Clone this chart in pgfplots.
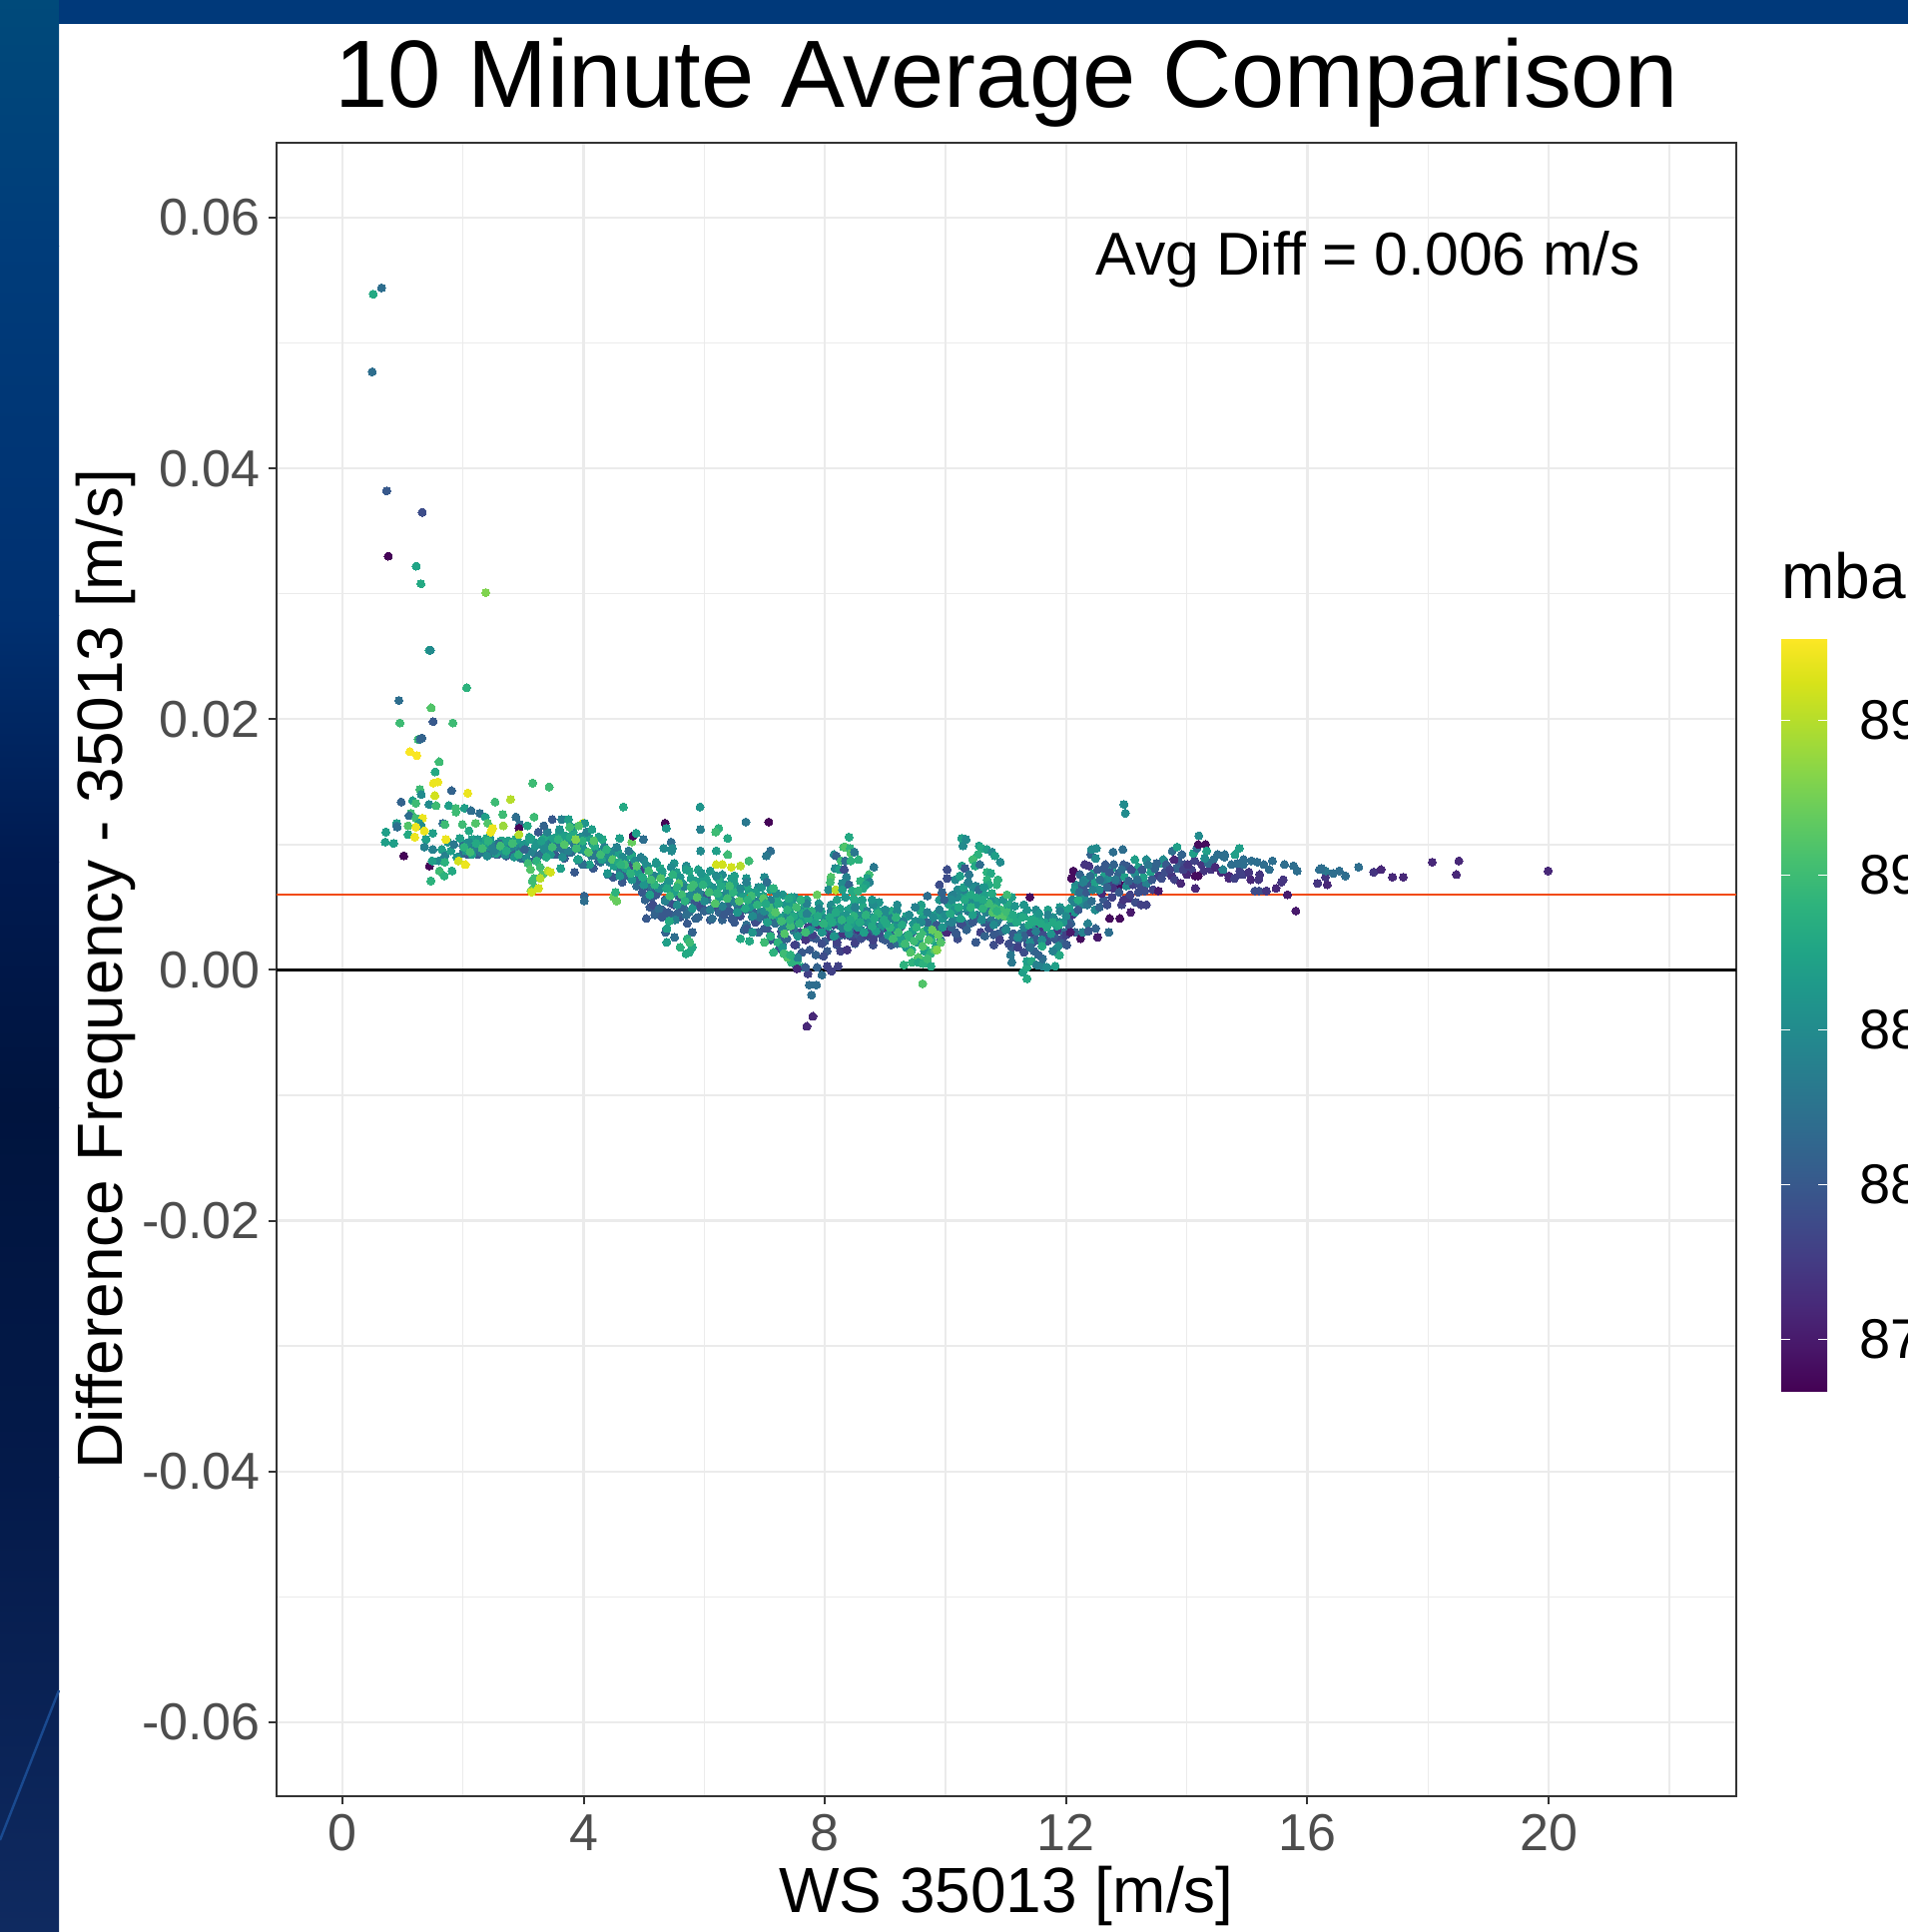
\documentclass[border=0pt]{standalone}
\usepackage{fontspec}
\setmainfont{Liberation Sans}
\usepackage{pgfplots}
\pgfplotsset{compat=1.18}
\definecolor{bA}{HTML}{004A7A}\definecolor{bB}{HTML}{003C7A}\definecolor{bC}{HTML}{003070}
\definecolor{bD}{HTML}{001A50}\definecolor{bE}{HTML}{00143E}\definecolor{bF}{HTML}{041A4A}
\definecolor{bG}{HTML}{0F2A60}\definecolor{bT}{HTML}{00397A}\definecolor{bL}{HTML}{1A4A90}
\definecolor{gridc}{HTML}{EBEBEB}\definecolor{tickc}{HTML}{4D4D4D}\definecolor{borderc}{HTML}{333333}
\definecolor{meanc}{HTML}{F24A0E}
\begin{document}
\begin{tikzpicture}
\path[use as bounding box] (0pt,0pt) rectangle (955.5pt,967.5pt);
\clip (0pt,0pt) rectangle (955.5pt,967.5pt);
\fill[white] (0pt,0pt) rectangle (955.5pt,967.5pt);
\shade[top color=bA,bottom color=bB] (0pt,844pt) rectangle (29.5pt,967.5pt);
\shade[top color=bB,bottom color=bC] (0pt,659pt) rectangle (29.5pt,844.2pt);
\shade[top color=bC,bottom color=bD] (0pt,535.5pt) rectangle (29.5pt,659.2pt);
\shade[top color=bD,bottom color=bE] (0pt,412.5pt) rectangle (29.5pt,535.7pt);
\shade[top color=bE,bottom color=bF] (0pt,227.5pt) rectangle (29.5pt,412.7pt);
\shade[top color=bF,bottom color=bG] (0pt,0pt) rectangle (29.5pt,227.7pt);
\fill[bT] (29.5pt,955.5pt) rectangle (955.5pt,967.5pt);
\draw[bL,line width=1.2pt] (0pt,46pt) -- (29.5pt,121pt);
\begin{axis}[
  at={(138.5pt,68pt)},anchor=south west,scale only axis,width=731pt,height=828pt,
  xmin=-1.09,xmax=23.11,ymin=-0.0659,ymax=0.06597,
  xtick={0,4,8,12,16,20},xticklabels={0,4,8,12,16,20},
  minor xtick={2,6,10,14,18,22},
  ytick={-0.06,-0.04,-0.02,0,0.02,0.04,0.06},
  yticklabels={-0.06,-0.04,-0.02,0.00,0.02,0.04,0.06},
  minor ytick={-0.05,-0.03,-0.01,0.01,0.03,0.05},
  scaled y ticks=false,
  grid=both,major grid style={gridc,line width=1.2pt},minor grid style={gridc,line width=0.7pt},
  axis line style={borderc,line width=0.8pt},
  tick align=outside,tick pos=left,major tick length=4pt,minor tick length=0pt,
  tick style={borderc,line width=1pt},
  every minor tick/.style={draw=none},
  ticklabel style={font=\fontsize{26}{26}\selectfont,text=tickc},
  yticklabel style={inner xsep=0pt,xshift=-4pt},
  xticklabel style={anchor=base,yshift=-23pt},
  title={10 Minute Average Comparison},
  title style={font=\fontsize{47.9}{50}\selectfont,anchor=base,at={(0.5,1)},yshift=11.5pt},
  xlabel={WS 35013 [m/s]},
  xlabel style={font=\fontsize{32}{34}\selectfont,anchor=base,at={(axis description cs:0.5,0)},yshift=-58pt},
  ylabel={Difference Frequency - 35013 [m/s]},
  ylabel style={font=\fontsize{32}{34}\selectfont,anchor=base,at={(axis description cs:0,0.5)},yshift=77pt},
  colormap/viridis,point meta min=873.3,point meta max=897.67,
  colorbar,
  colorbar shift/.style={},
  colorbar/width=23pt,
  colorbar style={
    at={(parent axis.north east)},anchor=north west,xshift=22.5pt,yshift=-248pt,
    width=23pt,height=377.5pt,xmin=0,xmax=1,
    axis line style={draw=none},
    ytick={875,880,885,890,895},yticklabels={87,88,88,89,89},
    tick align=inside,ytick pos=both,yticklabel pos=right,
    major tick length=4.5pt,
    ytick style={white,line width=0.5pt},
    yticklabel style={font=\fontsize{28}{28}\selectfont,text=black,inner xsep=0pt,xshift=16pt},
  },
]
\addplot[scatter,only marks,mark=*,mark size=2pt,scatter src=explicit,
  scatter/use mapped color={draw=mapped color,fill=mapped color},mark options={line width=0pt}]
  table[x index=0,y index=1,meta index=2] {
5.1 .0050 880
5.2 .0046 881
5.3 .0048 880
5.45 .0044 881
5.6 .0042 880
5.7 .0044 882
5.9 .0042 881
6.1 .0040 880
6.3 .0040 881
6.5 .0038 880
6.7 .0036 882
6.9 .0030 881
7.1 .0024 880
7.3 .0020 881
4.8 .0092 886
5.0 .0088 885
5.2 .0086 887
5.5 .0085 886
5.7 .0083 885
5.9 .0080 887
6.1 .0079 886
6.3 .0076 885
6.5 .0075 887
6.7 .0073 886
6.9 .0066 885
7.1 .0064 887
7.3 .0060 886
7.5 .0058 885
7.7 .0056 887
7.9 .0053 886
8.1 .0052 885
8.5 .0054 887
8.9 .0054 886
9.2 .0052 885
9.6 .0052 887
9.9 .0056 886
10.1 .0059 885
11.1 .0058 887
11.3 .0052 886
11.5 .0048 885
11.7 .0048 887
11.9 .0050 886
8.2 .0020 879
8.5 .0021 880
8.8 .0020 879
9.1 .0020 880
10.2 .0025 879
10.5 .0022 880
10.8 .0020 879
11.1 .0018 880
11.3 .0014 879
2.00 .0093 882
2.06 .0101 886
2.12 .0097 884
2.18 .0104 887
2.24 .0092 880
2.30 .0100 885
2.36 .0095 883
2.42 .0102 887
2.48 .0093 882
2.54 .0100 886
2.60 .0097 884
2.66 .0103 887
2.72 .0091 880
2.78 .0099 885
2.84 .0094 883
2.90 .0102 887
2.96 .0089 882
3.02 .0100 886
3.08 .0095 884
3.14 .0104 887
3.20 .0088 880
3.26 .0100 885
3.32 .0093 883
3.38 .0106 887
3.44 .0092 882
3.50 .0105 886
3.56 .0098 884
3.62 .0108 887
3.68 .0089 880
3.74 .0103 885
3.80 .0094 883
3.86 .0106 887
3.92 .0087 882
3.98 .0101 886
4.04 .0094 884
4.10 .0105 887
4.16 .0081 880
4.22 .0095 885
4.28 .0086 883
4.34 .0098 887
4.40 .0076 882
4.46 .0091 886
4.52 .0083 884
4.58 .0093 887
4.64 .0070 880
4.70 .0085 885
4.76 .0075 883
4.82 .0086 887
4.88 .0067 882
4.94 .0080 886
5.00 .0071 884
5.06 .0083 887
5.12 .0058 880
5.18 .0075 885
5.24 .0063 883
5.30 .0077 887
5.36 .0055 882
5.42 .0071 886
5.48 .0063 884
5.54 .0078 887
5.60 .0050 880
5.66 .0068 885
5.72 .0056 883
5.78 .0073 887
5.84 .0052 882
5.90 .0069 886
5.96 .0060 884
6.02 .0074 887
6.08 .0048 880
6.14 .0066 885
6.20 .0053 883
6.26 .0071 887
6.32 .0049 882
6.38 .0063 886
6.44 .0056 884
6.50 .0069 887
6.56 .0044 880
6.62 .0059 885
6.68 .0048 883
6.74 .0063 887
6.80 .0042 882
6.86 .0054 886
6.92 .0046 884
6.98 .0059 887
7.04 .0033 880
7.10 .0049 885
7.16 .0039 883
7.22 .0054 887
7.28 .0027 882
7.34 .0044 886
7.40 .0035 884
7.46 .0052 887
7.52 .0020 880
7.58 .0039 885
7.64 .0028 883
7.70 .0046 887
7.76 .0026 880
7.82 .0041 886
7.88 .0034 884
7.94 .0047 887
8.00 .0023 880
8.06 .0038 885
8.12 .0029 883
8.18 .0045 887
8.24 .0027 882
8.30 .0043 886
8.36 .0036 884
8.42 .0049 887
8.48 .0027 880
8.54 .0044 885
8.60 .0032 883
8.66 .0047 887
8.72 .0027 882
8.78 .0042 886
8.84 .0035 884
8.90 .0047 887
8.96 .0025 880
9.02 .0042 885
9.08 .0030 883
9.14 .0045 887
9.20 .0021 882
9.26 .0036 886
9.32 .0026 884
9.38 .0043 887
9.44 .0016 888
9.50 .0039 885
9.56 .0024 889
9.62 .0042 887
9.68 .0016 889
9.74 .0037 886
9.80 .0028 889
9.86 .0045 887
9.92 .0024 882
9.98 .0043 886
10.04 .0036 884
10.10 .0052 887
10.16 .0030 880
10.22 .0047 885
10.28 .0039 883
10.34 .0059 887
10.40 .0037 882
10.46 .0055 886
10.52 .0044 884
10.58 .0063 887
10.64 .0038 880
10.70 .0053 885
10.76 .0040 883
10.82 .0055 887
10.88 .0029 880
10.94 .0044 886
11.00 .0033 884
11.06 .0052 887
11.12 .0026 880
11.18 .0041 885
11.24 .0029 883
11.30 .0043 887
11.36 .0022 882
11.42 .0036 886
11.48 .0026 882
11.54 .0041 887
11.60 .0021 880
11.66 .0036 885
11.72 .0027 882
11.78 .0042 887
11.84 .0024 880
11.90 .0038 885
11.96 .0030 882
12.02 .0046 886
12.08 .0037 881
12.14 .0054 884
12.20 .0048 880
12.26 .0066 886
2.03 .0099 884
2.09 .0092 880
2.15 .0104 887
2.21 .0096 883
2.27 .0101 886
2.33 .0094 881
2.39 .0105 888
2.45 .0098 885
2.51 .0098 884
2.57 .0092 880
2.63 .0103 887
2.69 .0095 883
2.75 .0100 886
2.81 .0093 881
2.87 .0104 888
2.93 .0097 885
2.99 .0096 884
3.05 .0088 880
3.11 .0104 887
3.17 .0094 883
3.23 .0101 886
3.29 .0092 881
3.35 .0106 888
3.41 .0100 885
3.47 .0101 884
3.53 .0092 880
3.59 .0108 887
3.65 .0096 883
3.71 .0104 886
3.77 .0094 881
3.83 .0110 888
3.89 .0098 885
3.95 .0096 884
4.01 .0084 880
4.07 .0106 887
4.13 .0091 883
4.19 .0098 886
4.25 .0087 881
4.31 .0104 888
4.37 .0092 885
4.43 .0086 884
4.49 .0074 880
4.55 .0094 887
4.61 .0079 883
4.67 .0088 886
4.73 .0075 881
4.79 .0091 888
4.85 .0079 885
4.91 .0074 884
4.97 .0062 880
5.03 .0082 887
5.09 .0067 883
5.15 .0075 886
5.21 .0062 881
5.27 .0081 888
5.33 .0066 885
5.39 .0066 884
5.45 .0053 880
5.51 .0077 887
5.57 .0059 883
5.63 .0069 886
5.69 .0055 881
5.75 .0079 888
5.81 .0062 885
5.87 .0063 884
5.93 .0050 880
5.99 .0073 887
6.05 .0056 883
6.11 .0066 886
6.17 .0052 881
6.23 .0073 888
6.29 .0059 885
6.35 .0059 884
6.41 .0047 880
6.47 .0067 887
6.53 .0053 883
6.59 .0062 886
6.65 .0049 881
6.71 .0067 888
6.77 .0053 885
6.83 .0052 884
6.89 .0040 880
6.95 .0058 887
7.01 .0042 883
7.07 .0052 886
7.13 .0039 881
7.19 .0057 888
7.25 .0042 885
7.31 .0040 884
7.37 .0025 880
7.43 .0049 887
7.49 .0031 883
7.55 .0042 886
7.61 .0028 880
7.67 .0051 888
7.73 .0034 885
7.79 .0036 884
7.85 .0025 880
7.91 .0046 887
7.97 .0031 883
8.03 .0040 886
8.09 .0028 880
8.15 .0048 888
8.21 .0036 885
8.27 .0040 884
8.33 .0028 880
8.39 .0048 887
8.45 .0034 883
8.51 .0043 886
8.57 .0031 881
8.63 .0050 888
8.69 .0038 885
8.75 .0039 884
8.81 .0027 880
8.87 .0047 887
8.93 .0033 883
8.99 .0040 886
9.05 .0028 881
9.11 .0047 888
9.17 .0036 885
9.23 .0035 884
9.29 .0021 888
9.35 .0043 887
9.41 .0026 889
9.47 .0037 886
9.53 .0022 889
9.59 .0047 888
9.65 .0031 890
9.71 .0033 886
9.77 .0024 889
9.83 .0044 887
9.89 .0030 883
9.95 .0041 886
10.01 .0030 881
10.07 .0052 888
10.13 .0040 885
10.19 .0047 884
10.25 .0037 880
10.31 .0062 887
10.37 .0047 883
10.43 .0056 886
10.49 .0042 881
10.55 .0065 888
10.61 .0050 885
10.67 .0046 884
10.73 .0035 880
10.79 .0053 887
10.85 .0038 883
10.91 .0046 886
10.97 .0032 880
11.03 .0052 888
11.09 .0038 885
11.15 .0038 884
11.21 .0024 880
11.27 .0043 887
11.33 .0029 881
11.39 .0036 885
11.45 .0022 880
11.51 .0043 887
11.57 .0032 882
11.63 .0033 884
11.69 .0023 879
11.75 .0042 887
11.81 .0029 881
11.87 .0037 885
11.93 .0025 879
11.99 .0047 887
12.05 .0038 881
4.6 .0086 880
4.7 .0079 881
4.8 .0083 879
4.9 .0072 881
4.95 .0080 878
5.0 .0066 880
5.02 .0056 881
5.04 .0041 880
5.1 .0061 881
5.15 .0052 879
5.18 .0044 881
5.2 .0060 880
5.25 .0049 882
5.3 .0042 880
5.35 .0056 879
5.36 .0030 881
5.4 .0046 880
5.45 .0061 881
5.5 .0052 879
5.51 .0026 882
5.55 .0045 881
5.6 .0058 880
5.65 .0050 881
5.72 .0037 880
5.75 .0046 882
5.8 .0030 881
5.85 .0055 880
5.86 .0041 881
5.95 .0051 879
6.0 .0047 881
6.05 .0060 880
6.13 .0041 882
6.2 .0050 879
6.25 .0046 881
6.33 .0044 880
6.4 .0053 881
6.46 .0041 880
6.55 .0048 882
6.6 .0043 879
6.66 .0032 881
6.71 .0033 880
6.8 .0047 881
6.85 .0038 879
6.92 .0042 882
7.0 .0033 880
7.05 .0041 881
7.1 .0028 879
7.18 .0037 882
7.24 .0017 880
7.28 .0031 879
7.35 .0025 881
7.4 .0011 877
7.45 .0034 880
7.5 .0020 878
7.51 .0005 881
7.54 .0001 875
7.6 .0030 879
7.62 .0014 880
7.68 .0024 877
7.72 .0034 878
7.75 .0016 880
7.8 .0028 878
7.85 .0012 881
7.9 .0036 877
7.95 .0021 879
8.0 .0032 878
8.04 .0015 880
8.1 .0027 877
8.15 .0036 879
8.2 .0022 878
8.26 .0015 878
8.3 .0029 877
8.37 .0016 877
8.42 .0027 879
8.5 .0022 878
8.55 .0032 877
8.6 .0025 879
8.7 .0028 878
8.75 .0033 880
8.8 .0024 878
8.9 .0029 879
9.0 .0024 880
9.05 .0031 878
9.15 .0026 881
9.25 .0034 878
9.45 .0030 880
9.7 .0038 881
9.85 .0036 880
9.95 .0032 879
10.02 .0030 876
10.1 .0034 881
10.18 .0029 880
10.28 .0036 879
10.35 .0032 881
10.45 .0038 880
10.58 .0030 878
10.65 .0027 881
10.72 .0033 879
10.8 .0028 880
10.9 .0024 878
10.95 .0031 881
11.05 .0021 879
11.12 .0029 880
11.2 .0018 878
11.28 .0026 881
11.36 .0021 879
11.42 .0030 878
11.5 .0024 880
11.55 .0033 877
11.62 .0028 879
11.7 .0036 878
11.78 .0026 880
11.85 .0032 877
11.92 .0021 881
12.0 .0028 878
12.05 .0036 880
12.1 .0044 877
12.15 .0030 881
1.6 .0087 885
1.65 .0096 887
1.7 .0091 884
1.75 .0102 886
1.8 .0095 887
1.85 .0100 883
1.9 .0090 886
1.95 .0105 887
2.0 .0099 882
2.05 .0095 886
2.1 .0102 885
2.15 .0092 887
2.2 .0098 884
2.25 .0104 886
2.3 .0094 883
2.35 .0100 887
2.4 .0091 885
2.45 .0105 886
2.5 .0097 884
2.55 .0093 887
2.6 .0101 882
2.65 .0096 886
2.7 .0092 885
2.75 .0103 887
2.8 .0098 884
2.85 .0090 886
2.9 .0104 887
2.95 .0095 883
3.0 .0100 886
3.05 .0089 885
3.1 .0106 887
3.15 .0094 884
3.2 .0099 886
3.25 .0091 882
3.3 .0103 887
3.35 .0096 885
3.4 .0110 884
3.45 .0092 886
3.5 .0105 887
3.55 .0098 883
3.6 .0112 886
3.65 .0090 885
3.7 .0107 887
3.75 .0095 884
3.8 .0114 886
3.85 .0100 883
3.9 .0088 887
3.95 .0106 885
4.0 .0096 886
4.05 .0110 884
4.1 .0084 887
4.15 .0101 885
4.2 .0092 883
4.25 .0106 886
4.3 .0088 887
4.35 .0098 884
4.4 .0077 886
4.45 .0094 885
4.5 .0083 887
4.55 .0098 884
4.6 .0075 886
4.65 .0090 885
4.7 .0081 887
4.75 .0095 883
4.8 .0072 886
4.85 .0087 885
4.9 .0078 887
4.95 .0090 884
5.0 .0068 886
5.05 .0083 885
5.1 .0060 887
5.15 .0075 884
5.2 .0085 886
5.25 .0065 885
5.3 .0079 887
5.35 .0055 884
5.4 .0071 886
5.45 .0082 885
5.5 .0062 887
5.55 .0052 885
5.6 .0074 886
5.65 .0066 884
5.7 .0080 887
5.75 .0059 885
5.8 .0049 886
5.85 .0071 887
5.9 .0063 884
5.95 .0077 886
6.0 .0055 885
6.05 .0070 887
6.1 .0048 884
6.15 .0063 886
6.2 .0075 885
6.25 .0058 887
6.3 .0051 884
6.35 .0068 886
6.4 .0062 885
6.45 .0073 887
6.5 .0054 884
6.55 .0046 886
6.6 .0065 885
6.65 .0058 887
6.7 .0070 884
6.75 .0050 886
6.8 .0043 885
6.85 .0062 887
6.9 .0055 884
6.95 .0066 886
7.0 .0047 885
7.05 .0038 887
7.1 .0056 884
7.15 .0049 886
7.2 .0061 885
7.25 .0042 887
7.3 .0033 884
7.35 .0052 886
7.4 .0045 885
7.45 .0058 887
7.5 .0036 884
7.55 .0027 886
7.6 .0047 885
7.65 .0040 887
7.7 .0053 884
7.75 .0032 886
7.8 .0044 885
7.85 .0038 887
7.9 .0049 884
7.95 .0030 886
8.0 .0041 885
8.05 .0035 887
8.1 .0047 884
8.15 .0027 886
8.2 .0039 885
8.25 .0049 887
8.3 .0033 884
8.35 .0044 886
8.4 .0029 885
8.45 .0037 887
8.5 .0050 884
8.55 .0034 886
8.6 .0043 885
8.65 .0030 887
8.7 .0047 884
8.75 .0038 886
8.8 .0052 885
8.85 .0031 887
8.9 .0042 884
8.95 .0036 886
9.0 .0048 885
9.05 .0028 887
9.1 .0041 884
9.15 .0034 886
9.2 .0047 885
9.25 .0025 887
9.3 .0039 884
9.35 .0018 886
9.4 .0044 885
9.45 .0031 887
9.5 .0050 884
9.55 .0022 886
9.6 .0038 885
9.65 .0015 887
9.7 .0046 884
9.75 .0028 886
9.8 .0042 885
9.85 .0019 887
9.9 .0048 884
9.95 .0034 886
10.0 .0044 885
10.05 .0053 887
10.1 .0038 884
10.15 .0048 886
10.2 .0058 885
10.25 .0041 887
10.3 .0064 884
10.35 .0050 886
10.4 .0056 885
10.45 .0044 887
10.5 .0067 884
10.55 .0052 886
10.6 .0040 885
10.65 .0060 887
10.7 .0047 884
10.75 .0055 886
10.8 .0036 885
10.85 .0051 887
10.9 .0042 884
10.95 .0056 886
11.0 .0032 885
11.05 .0047 887
11.1 .0039 884
11.15 .0051 886
11.2 .0026 885
11.25 .0043 887
11.3 .0034 884
11.35 .0048 886
11.4 .0022 885
11.45 .0040 887
11.5 .0031 884
11.55 .0045 886
11.6 .0024 885
11.65 .0038 887
11.7 .0044 884
11.75 .0029 886
11.8 .0041 885
11.85 .0035 887
11.9 .0047 884
11.95 .0038 886
12.0 .0043 885
12.05 .0049 887
12.1 .0056 884
12.15 .0046 886
12.2 .0062 883
12.25 .0052 885
2.02 .0098 889
2.12 .0094 890
2.22 .0101 888
2.32 .0097 890
2.42 .0103 889
2.52 .0095 884
2.62 .0099 890
2.72 .0095 888
2.82 .0101 890
2.92 .0092 889
3.02 .0096 881
3.08 .0085 890
3.12 .0080 891
3.18 .0073 890
3.22 .0087 889
3.28 .0082 890
3.32 .0076 891
3.38 .0090 888
3.48 .0098 890
3.58 .0104 889
3.68 .0100 891
3.78 .0106 888
3.88 .0097 890
3.98 .0103 889
4.08 .0094 891
4.18 .0099 888
4.28 .0092 890
4.38 .0096 889
4.48 .0088 891
4.58 .0086 888
4.68 .0084 890
4.78 .0077 889
4.88 .0083 891
4.98 .0074 888
5.08 .0079 890
5.18 .0068 889
5.28 .0073 891
5.38 .0065 888
5.43 .0059 890
5.48 .0076 889
5.58 .0069 891
5.63 .0060 890
5.68 .0055 889
5.78 .0066 890
5.88 .0058 891
5.98 .0068 889
6.08 .0062 890
6.18 .0053 891
6.28 .0067 888
6.38 .0057 890
6.48 .0062 889
6.58 .0055 891
6.68 .0049 888
6.78 .0059 890
6.88 .0052 889
6.98 .0057 891
7.08 .0050 890
7.13 .0044 889
7.18 .0046 891
7.23 .0053 888
7.28 .0039 890
7.33 .0029 891
7.38 .0048 889
7.43 .0035 890
7.48 .0043 888
7.53 .0050 890
7.58 .0037 889
7.63 .0045 888
7.68 .0030 890
7.73 .0041 888
7.78 .0047 889
7.88 .0043 888
7.98 .0037 889
8.08 .0042 888
8.18 .0046 888
8.28 .0040 889
8.38 .0034 888
8.48 .0043 889
8.58 .0038 888
8.68 .0044 889
8.78 .0035 888
8.88 .0045 889
8.98 .0040 888
9.08 .0034 889
9.13 .0025 890
9.18 .0042 889
9.22 .0030 890
9.28 .0036 888
9.33 .0021 890
9.38 .0028 889
9.42 .0014 891
9.48 .0023 890
9.52 .0034 889
9.55 .0010 891
9.58 .0027 890
9.62 .0019 891
9.67 .0008 890
9.72 .0024 891
9.75 .0013 889
9.78 .0032 892
9.82 .0016 891
9.86 .0016 893
9.88 .0028 892
9.92 .0022 891
10.08 .0045 888
10.22 .0050 888
10.32 .0056 888
10.42 .0050 889
10.52 .0058 888
10.62 .0049 889
10.72 .0053 890
10.78 .0046 891
10.82 .0049 890
10.88 .0044 891
10.92 .0048 890
10.98 .0043 891
11.02 .0046 890
11.08 .0041 889
11.18 .0038 888
11.28 .0042 888
11.38 .0036 888
11.48 .0039 888
11.58 .0037 888
11.68 .0034 888
11.78 .0038 888
11.88 .0036 888
7.33 .0013 890
7.22 .0022 889
7.45 .0006 889
7.62 .0002 888
7.54 .0007 889
.513 .0539 888
.651 .0544 882
.497 .0477 882
.734 .0382 880
1.325 .0365 879
.762 .0330 873.5
1.225 .0322 887.5
1.303 .0308 888
2.379 .0301 893
1.44 .0255 887
1.46 .0255 885
2.06 .0225 889
.939 .0215 882
1.474 .0209 891
.955 .0197 890
1.507 .0198 880
1.833 .0197 890
1.258 .0184 890
1.29 .0184 882
1.32 .0185 881
1.12 .0174 897.5
1.236 .0171 897.5
1.606 .0166 890
1.54 .0158 888
1.51 .0149 897
1.584 .0150 897
1.286 .0144 890
1.31 .0140 885
1.81 .0143 881
2.08 .0141 897
1.534 .0139 896
3.157 .0149 890
3.43 .0146 890
2.533 .0134 890
2.79 .0136 895
.977 .0134 881
1.165 .0135 887
1.22 .0133 890
1.44 .0132 885
1.556 .0131 890
1.766 .0131 887
1.88 .0129 890
1.885 .0126 890
2.025 .0129 887
2.136 .0127 882
1.137 .0125 890
1.109 .0123 882
1.22 .0121 890
1.33 .0121 897
.9 .0117 887
.9 .0115 884
.91 .0114 882
1.09 .0115 891
1.275 .0117 887
1.31 .0115 885
1.22 .0114 897
1.093 .0108 888
1.2 .0106 897
1.36 .0111 897
1.5 .0109 887
.723 .0110 887
.712 .0102 887
.85 .0101 887
1.02 .0091 873.5
1.446 .0083 873.5
1.468 .0071 889
1.61 .0079 890
1.69 .0075 889
1.82 .0079 888
1.49 .0087 887
1.7 .0086 889
1.926 .0087 896
2.04 .0084 897
1.39 .0104 887
1.5 .0096 884
1.36 .0098 884
1.72 .0104 897
1.67 .0117 882
1.7 .0116 890
1.99 .0116 890
2.1 .0111 888
2.21 .0117 891
2.28 .0125 882
2.37 .0122 887
2.41 .0117 891
2.49 .0113 897
2.46 .0110 897
2.66 .0124 890
2.88 .0122 882
3.18 .0122 890
2.94 .0116 882
2.67 .0115 894
2.93 .0113 873.5
2.93 .0108 895
3.07 .0115 888
3.34 .0115 881
3.25 .0110 880
3.48 .0120 880
3.64 .0120 884
3.75 .0120 887
3.77 .0114 890
3.99 .0117 896
4.02 .0117 886
3.92 .0115 891
4.14 .0112 887
3.87 .0104 893
4.25 .0106 887
4.17 .0103 891
4.6 .0105 887
3.62 .0081 887
3.98 .0084 882
3.92 .0088 887
3.41 .0079 895
3.45 .0078 896
3.28 .0073 895
3.15 .0071 890
3.18 .0066 890
3.13 .0063 893
3.14 .0062 896
3.25 .0065 896
4.01 .0059 881
4.01 .0055 882
4.5 .0058 892
4.55 .0055 892
4.53 .0062 889
3.85 .0078 880
4.8 .0102 892
4.66 .0130 888
5.93 .0130 886
5.35 .0117 873.5
5.37 .0113 886
4.82 .0107 873.5
4.87 .0109 887
4.99 .0104 882
5.33 .0097 885
5.45 .0102 882
5.47 .0097 885
5.46 .0095 885
6.69 .0118 883
7.07 .0118 873.5
6.24 .0113 889
6.19 .0110 890
6.39 .0105 888
5.94 .0112 884
5.94 .0095 885
6.2 .0095 887
6.39 .0092 890
6.74 .0087 890
7.1 .0095 882
7.03 .0091 883
7.0 .0074 885
7.04 .0070 882
6.6 .0083 895
6.45 .0082 896
6.3 .0084 896
6.2 .0084 896
7.15 .0065 889
7.4 .0057 888
7.6 .0056 889
5.6 .0018 889
5.7 .0013 888
5.75 .0014 888
5.8 .0018 888
5.72 .0025 889
5.76 .0022 890
5.52 .0040 884
5.42 .0039 888
5.38 .0033 887
5.38 .0022 887
6.6 .0025 888
6.75 .0023 888
6.8 .0030 886
7.0 .0022 890
7.1 .0027 889
7.15 .0014 889
7.3 .0018 886
7.38 .0010 891
7.55 .0010 884
7.7 .0045 884
7.32 .0013 890
7.72 -.0003 878
7.54 .0001 876
7.68 .0002 880
7.87 .0002 881
8.04 .0003 878
8.11 -.0001 878
8.22 .0003 878
7.95 -.0004 882
7.74 -.0012 882
7.86 -.0012 882
7.78 -.0020 882
7.8 -.0037 876
7.7 -.0045 876
7.43 .0012 889
7.98 .0011 879
8.4 .0106 888
8.31 .0098 890
8.34 .0098 891
8.42 .0097 889
8.43 .0093 891
8.49 .0094 883
8.56 .0088 889
8.15 .0092 885
8.19 .0091 881
8.27 .0087 890
8.34 .0087 882
8.43 .0087 889
8.81 .0082 883
8.17 .0081 885
8.24 .0080 887
8.32 .0080 879
8.1 .0074 891
8.36 .0074 884
8.73 .0076 890
8.7 .0073 887
8.59 .0071 889
8.74 .0070 884
8.09 .0070 890
8.29 .0069 885
8.4 .0068 881
8.68 .0068 887
8.63 .0065 888
8.06 .0064 885
8.18 .0064 895
8.29 .0064 887
8.45 .0063 888
8.55 .0063 889
7.87 .0060 892
8.2 .0056 887
8.34 .0058 886
8.48 .0057 888
8.62 .0056 887
8.78 .0056 886
10.27 .0105 887
10.34 .0104 885
10.29 .0099 885
10.56 .0099 887
10.59 .0097 888
10.69 .0096 887
10.77 .0094 885
10.82 .0091 887
10.91 .0086 885
10.54 .0092 889
10.45 .0088 890
10.49 .0083 888
10.27 .0083 887
10.57 .0084 882
10.32 .0081 880
10.03 .0080 879
10.03 .0073 879
9.9 .0068 879
9.94 .0062 881
9.7 .0059 882
10.16 .0072 885
10.24 .0075 887
10.39 .0076 883
10.69 .0078 889
10.75 .0077 888
10.69 .0072 889
10.87 .0072 889
10.85 .0068 889
10.72 .0068 888
10.46 .0066 885
10.2 .0064 885
10.3 .0066 887
10.55 .0064 882
10.77 .0061 888
11.02 .0060 890
11.4 .0058 874
10.12 .0060 884
10.38 .0070 884
10.64 .0066 886
10.1 .0056 885
9.98 .0056 881
9.62 -.0011 891
9.31 .0004 889
9.76 .0003 888
9.45 .0006 889
9.55 .0006 888
9.63 .0005 889
9.7 .0009 890
11.35 -.0007 888
11.28 -.0002 887
11.35 .0002 888
11.35 .0007 887
11.43 .0007 888
11.51 .0004 884
11.6 .0003 884
11.68 .0002 885
11.82 .0003 888
11.61 .0009 882
11.54 .0012 881
11.47 .0015 881
11.4 .0018 882
11.1 .0006 883
11.08 .0012 883
11.79 .0015 885
11.89 .0012 888
11.87 .0019 885
12.01 .0020 880
11.6 .0019 888
11.88 .0012 888
11.82 .0003 887
11.78 .0015 884
12.07 .0030 875
12.24 .0025 874
12.52 .0026 875
12.71 .0030 882
12.28 .0030 884
12.36 .0037 884
12.49 .0033 881
12.37 .0031 880
12.72 .0041 874
12.89 .0041 874
13.07 .0046 875
12.2 .0048 880
12.3 .0058 885
12.35 .0052 883
12.42 .0055 882
12.48 .0048 885
12.55 .0050 881
12.62 .0056 880
12.68 .0052 879
12.76 .0058 878
12.92 .0052 878
12.95 .0056 877
13.03 .0057 877
13.15 .0054 879
13.24 .0052 878
13.33 .0052 878
13.06 .0060 878
13.2 .0062 879
12.16 .0068 885
12.26 .0066 880
12.37 .0069 880
12.48 .0070 887
12.59 .0061 876
12.73 .0068 878
12.78 .0065 877
12.9 .0068 874
13.0 .0067 885
13.11 .0068 878
13.22 .0068 879
13.33 .0069 884
13.44 .0064 878
13.53 .0063 875
12.12 .0079 874
12.09 .0073 874
12.23 .0076 881
12.31 .0072 885
12.45 .0077 887
12.64 .0076 887
12.7 .0073 885
12.75 .0081 887
12.87 .0077 881
12.97 .0074 887
13.14 .0077 885
13.28 .0074 887
13.4 .0078 887
13.53 .0075 878
13.64 .0078 879
13.75 .0075 877
13.83 .0081 881
13.47 .0081 881
12.31 .0084 877
12.38 .0083 877
12.65 .0084 880
12.79 .0084 881
12.95 .0084 880
13.01 .0083 880
12.63 .0081 880
12.14 .0064 886
12.2 .0056 888
12.55 .0064 885
12.6 .0071 884
12.85 .0071 880
12.41 .0092 881
12.49 .0089 885
12.5 .0097 885
12.42 .0096 885
12.78 .0094 882
12.94 .0096 882
13.14 .0088 887
13.2 .0082 887
13.33 .0088 885
13.57 .0085 887
13.61 .0088 885
12.96 .0132 885
12.98 .0125 885
12.22 .0062 882
12.28 .0070 884
12.34 .0062 880
12.4 .0075 882
12.44 .0064 884
12.52 .0080 880
12.56 .0072 882
12.68 .0066 881
12.72 .0078 880
12.82 .0072 883
12.88 .0062 880
12.92 .0080 882
13.04 .0071 881
13.08 .0080 879
13.18 .0072 882
13.26 .0080 880
13.3 .0063 879
13.36 .0084 883
13.42 .0072 880
13.5 .0085 881
13.58 .0073 879
13.66 .0084 880
13.72 .0080 878
13.8 .0072 878
13.86 .0087 880
13.96 .0084 879
14.08 .0080 878
14.28 .0079 877
14.4 .0080 877
13.9 .0069 876
14.14 .0065 876
14.14 .0075 874
14.19 .0075 874
14.0 .0076 876
13.94 .0080 878
14.02 .0084 877
14.13 .0087 878
14.25 .0084 877
14.36 .0085 882
14.44 .0088 882
14.47 .0082 876
14.57 .0078 876
13.79 .0088 876
13.92 .0092 881
13.76 .0095 882
13.84 .0098 887
14.11 .0093 887
14.17 .0097 882
14.2 .0107 885
14.31 .0100 874
14.19 .0100 874
14.33 .0095 887
14.3 .0089 885
14.6 .0080 884
14.62 .0090 882
14.51 .0092 882
14.63 .0092 882
14.8 .0092 887
14.87 .0097 887
14.7 .0073 876
14.7 .0075 876
14.79 .0073 878
14.88 .0079 878
14.88 .0076 878
14.93 .0076 878
15.03 .0078 877
15.06 .0072 876
15.19 .0072 877
15.21 .0076 877
15.13 .0063 879
15.2 .0063 879
15.32 .0063 877
15.48 .0065 876
15.57 .0070 877
15.6 .0072 877
15.67 .0060 875
15.81 .0047 875
14.74 .0084 882
14.84 .0085 882
14.94 .0084 882
14.94 .0088 882
15.07 .0087 882
15.17 .0086 882
15.28 .0084 882
15.37 .0080 882
15.42 .0087 882
15.62 .0084 882
15.77 .0083 882
15.83 .0079 882
16.17 .0069 877
16.33 .0068 876
16.3 .0074 877
16.3 .0079 883
16.23 .0081 882
16.2 .0080 882
16.43 .0077 882
16.53 .0079 882
16.63 .0075 882
16.85 .0082 882
17.1 .0078 877
17.22 .0080 876
17.41 .0074 876
17.59 .0074 876
18.07 .0086 876
18.47 .0076 876
18.51 .0087 876
19.99 .0079 876
4.62 .0084 889
5.12 .0072 890
5.55 .0066 889
5.82 .0068 890
6.22 .0061 889
6.42 .0067 890
6.72 .0056 889
7.02 .0053 888
7.42 .0040 889
8.12 .0038 888
8.42 .0040 888
8.82 .0041 888
9.02 .0037 888
10.42 .0060 888
10.62 .0056 888
10.85 .0047 889
11.12 .0044 888
11.42 .0040 888
};
\addplot[black,line width=1.2pt] coordinates {(-1.09,0) (23.11,0)};
\addplot[meanc,line width=1.4pt] coordinates {(-1.09,0.006) (23.11,0.006)};
\node[font=\fontsize{30.3}{32}\selectfont,text=black] at (axis cs:17.01,0.0567) {Avg Diff = 0.006 m/s};
\end{axis}
\node[font=\fontsize{32}{34}\selectfont,anchor=base west,inner sep=0pt] at (892pt,667.5pt) {mbar};
\end{tikzpicture}
\end{document}
